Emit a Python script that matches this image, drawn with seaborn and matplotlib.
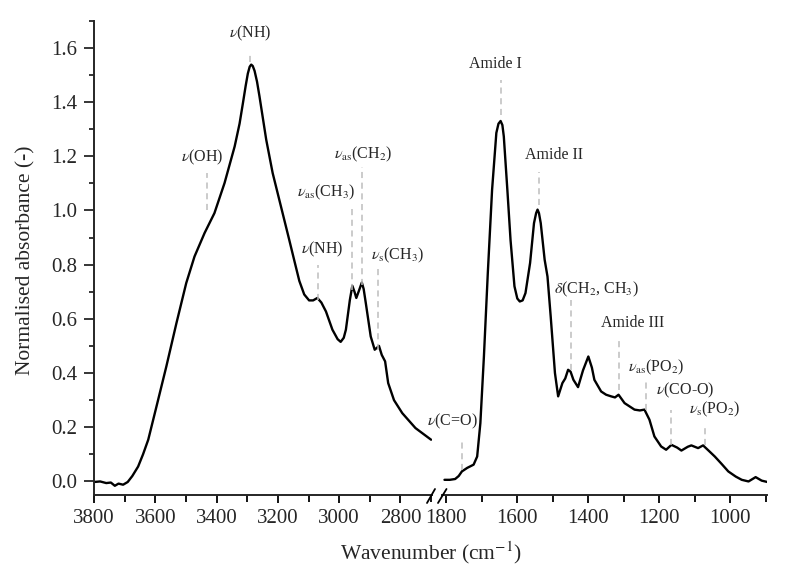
import matplotlib
matplotlib.use('Agg')
import matplotlib.pyplot as plt
import seaborn as sns
from matplotlib.ticker import MultipleLocator, FixedLocator, FormatStrFormatter
from matplotlib.lines import Line2D

# ---------------- data ----------------
left_wn = [3800, 3780, 3760, 3745, 3732, 3720, 3705, 3690, 3675, 3656, 3640, 3623,
           3596, 3564, 3531, 3499, 3472, 3439, 3407, 3374, 3341, 3325, 3314, 3305, 3298, 3292,
           3287, 3282, 3276, 3268, 3260, 3238, 3217, 3190, 3163, 3147, 3130, 3114, 3098, 3085, 3071,
           3058, 3043, 3022, 3005, 2995, 2985, 2978, 2965, 2957, 2950, 2944, 2935,
           2926, 2920, 2913, 2897, 2884, 2870, 2861, 2850, 2840, 2821, 2794, 2751, 2700]
left_abs = [-0.002, 0.0, -0.006, -0.004, -0.016, -0.008, -0.012, -0.002, 0.02, 0.055, 0.1, 0.154,
            0.277, 0.424, 0.584, 0.732, 0.83, 0.917, 0.99, 1.101, 1.236, 1.32, 1.396, 1.46, 1.505, 1.53,
            1.538, 1.533, 1.515, 1.475, 1.421, 1.261, 1.138, 1.015, 0.892, 0.818, 0.74, 0.69, 0.668, 0.668, 0.677,
            0.66, 0.627, 0.56, 0.525, 0.515, 0.53, 0.56, 0.67, 0.722, 0.70, 0.677, 0.705,
            0.734, 0.71, 0.658, 0.535, 0.486, 0.5, 0.467, 0.443, 0.363, 0.30, 0.252, 0.197, 0.154]

right_wn = [1805, 1790, 1775, 1765, 1756, 1741, 1723, 1713, 1704, 1694, 1683, 1671, 1659,
            1653, 1647, 1642, 1638, 1628, 1619, 1608, 1600, 1593, 1585, 1577, 1564, 1553, 1547, 1543,
            1539, 1534, 1523, 1515, 1506, 1494, 1485, 1473, 1465, 1457, 1450, 1442, 1429, 1415, 1400,
            1390, 1383, 1364, 1350, 1336, 1325, 1315, 1298, 1270, 1255, 1242, 1228, 1214,
            1195, 1181, 1166, 1150, 1138, 1120, 1110, 1091, 1077, 1060, 1044, 1025, 1006,
            985, 968, 949, 929, 912, 896]
right_abs = [0.006, 0.006, 0.009, 0.02, 0.037, 0.05, 0.062, 0.092, 0.215, 0.461, 0.77, 1.076, 1.286,
             1.32, 1.33, 1.315, 1.273, 1.076, 0.89, 0.72, 0.675, 0.664, 0.668, 0.695, 0.806, 0.953, 0.99, 1.003,
             0.99, 0.953, 0.818, 0.756, 0.609, 0.4, 0.314, 0.363, 0.38, 0.412, 0.405, 0.375, 0.348, 0.41, 0.461,
             0.42, 0.375, 0.332, 0.32, 0.314, 0.31, 0.32, 0.289, 0.265, 0.262, 0.265, 0.228, 0.166,
             0.129, 0.117, 0.135, 0.125, 0.114, 0.128, 0.133, 0.123, 0.133, 0.112, 0.092, 0.065, 0.037,
             0.018, 0.006, 0.0, 0.016, 0.003, -0.002]

left_major = [3800, 3600, 3400, 3200, 3000, 2800]
left_minor = [3700, 3500, 3300, 3100, 2900, 2700]
right_major = [1800, 1600, 1400, 1200, 1000]
right_minor = [1700, 1500, 1300, 1100, 900]

# band assignments: label, band position, dashed line y-range
left_labels = [r"$\nu$(NH)", r"$\nu$(OH)", r"$\nu_{\rm as}$(CH$_2$)", r"$\nu_{\rm as}$(CH$_3$)",
               r"$\nu$(NH)", r"$\nu_{\rm s}$(CH$_3$)"]
left_band = [3290, 3430, 2925, 2958, 3068, 2873]
left_line_top = [1.585, 1.139, 1.161, 1.02, 0.80, 0.79]
left_line_bot = [1.548, 1.003, 0.725, 0.707, 0.67, 0.486]
left_text_x = [3290, 3445, 2922, 3041, 3056, 2810]
left_text_y = [1.655, 1.197, 1.205, 1.068, 0.855, 0.833]

right_labels = ["Amide I", "Amide II", r"$\delta$(CH$_2$, CH$_3$)", "Amide III",
                r"$\nu_{\rm as}$(PO$_2$)", r"$\nu$(CO-O)", r"$\nu_{\rm s}$(PO$_2$)", r"$\nu$(C=O)"]
right_band = [1647, 1540, 1449, 1313, 1239, 1168, 1072, 1755]
right_line_top = [1.482, 1.142, 0.671, 0.523, 0.375, 0.265, 0.21, 0.16]
right_line_bot = [1.353, 1.021, 0.412, 0.338, 0.265, 0.135, 0.135, 0.043]
right_text_x = [1661, 1497, 1377, 1275, 1209, 1127, 1045, 1783]
right_text_y = [1.541, 1.205, 0.707, 0.586, 0.42, 0.335, 0.265, 0.22]

# ---------------- style ----------------
sns.set_style('ticks')
plt.rcParams['font.family'] = ['Liberation Serif', 'DejaVu Serif']
plt.rcParams['mathtext.fontset'] = 'stix'

W, H = 790, 579
fig = plt.figure(figsize=(W / 100, H / 100), dpi=100)


def rect(x0, x1, y0, y1):
    return [x0 / W, 1 - y1 / H, (x1 - x0) / W, (y1 - y0) / H]


axL = fig.add_axes(rect(94, 432, 20.7, 495))
axR = fig.add_axes(rect(442, 767, 20.7, 495))

sns.lineplot(x=left_wn, y=left_abs, ax=axL, color='black', lw=1.7, estimator=None)
sns.lineplot(x=right_wn, y=right_abs, ax=axR, color='black', lw=1.7, estimator=None)

axL.set_xlim(3800, 2697)
axR.set_xlim(1812, 897)
for ax in (axL, axR):
    ax.set_ylim(-0.05, 1.7)
    ax.set_xlabel('')
    ax.set_ylabel('')
    ax.spines['top'].set_visible(False)
    ax.spines['right'].set_visible(False)
    ax.spines['bottom'].set_linewidth(1.4)
    ax.spines['left'].set_linewidth(1.4)
    ax.patch.set_alpha(0)
    ax.tick_params(axis='x', which='major', length=6, width=1.3, labelsize=15, pad=4, color='black')
    ax.tick_params(axis='x', which='minor', length=5, width=1.3, color='black')

axR.spines['left'].set_visible(False)
axR.tick_params(axis='y', which='both', left=False, labelleft=False)

axL.xaxis.set_major_locator(FixedLocator(left_major))
axL.xaxis.set_minor_locator(FixedLocator(left_minor))
axR.xaxis.set_major_locator(FixedLocator(right_major))
axR.xaxis.set_minor_locator(FixedLocator(right_minor))

axL.yaxis.set_major_locator(MultipleLocator(0.2))
axL.yaxis.set_minor_locator(MultipleLocator(0.1))
axL.yaxis.set_major_formatter(FormatStrFormatter('%.1f'))
axL.tick_params(axis='y', which='major', length=7, width=1.3, labelsize=15, pad=5)
axL.tick_params(axis='y', which='minor', length=3.5, width=1.3)

# annotations
dash_kw = dict(color='#bdbdbd', lw=1.1, ls=(0, (4, 3)))
for lab, b, t, bo, tx, ty in zip(left_labels, left_band, left_line_top, left_line_bot,
                                  left_text_x, left_text_y):
    axL.plot([b, b], [bo, t], **dash_kw)
    axL.text(tx, ty, lab, ha='center', va='center', fontsize=11.5)
for lab, b, t, bo, tx, ty in zip(right_labels, right_band, right_line_top, right_line_bot,
                                  right_text_x, right_text_y):
    axR.plot([b, b], [bo, t], **dash_kw)
    axR.text(tx, ty, lab, ha='center', va='center', fontsize=11.5)

# axis break marks
for (x0, y0, x1, y1) in [(427, 503, 435, 489), (438, 503, 446.5, 489)]:
    fig.add_artist(Line2D([x0 / W, x1 / W], [1 - y0 / H, 1 - y1 / H],
                          transform=fig.transFigure, color='black', lw=1.3))

fig.text(431 / W, 1 - 553 / H, r"Wavenumber (cm$^{-1}$)", ha='center', va='center', fontsize=15.5)
fig.text(26 / W, 1 - 260 / H, "Normalised absorbance (-)", ha='center', va='center',
         rotation=90, fontsize=15.5)

fig.savefig('out.png', dpi=100)
